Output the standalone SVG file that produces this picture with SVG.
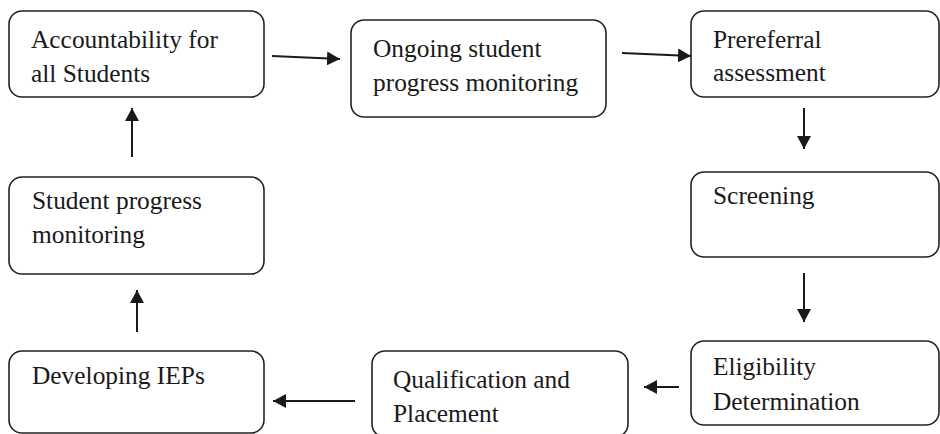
<svg xmlns="http://www.w3.org/2000/svg" width="940" height="434" viewBox="0 0 940 434">
<defs>
<marker id="ah" markerUnits="userSpaceOnUse" markerWidth="14" markerHeight="14" viewBox="0 0 14 14" refX="13" refY="7" orient="auto">
<path d="M0,0 L13,7 L0,14 Z" fill="#1a1a1a"/>
</marker>
</defs>
<style>
.box{fill:#fff;stroke:#222;stroke-width:1.6}
.t{font-size:25.4px;fill:#1a1a1a}
.c{stroke:#1a1a1a;stroke-width:2;fill:none;marker-end:url(#ah)}
</style>
<rect width="940" height="434" fill="#fff"/>
<g font-family="'Liberation Serif', 'Times New Roman', Times, serif">
<g id="n1"><rect class="box" x="9" y="11" width="255" height="86" rx="13"/><text class="t" x="31" y="48">Accountability for</text><text class="t" x="31" y="82">all Students</text></g>
<g id="n2"><rect class="box" x="351" y="20" width="255" height="97" rx="13"/><text class="t" x="373" y="57">Ongoing student</text><text class="t" x="373" y="91">progress monitoring</text></g>
<g id="n3"><rect class="box" x="691" y="11" width="248" height="86" rx="13"/><text class="t" x="713" y="48">Prereferral</text><text class="t" x="713" y="81">assessment</text></g>
<g id="n4"><rect class="box" x="691" y="172" width="248" height="85" rx="13"/><text class="t" x="713" y="204">Screening</text></g>
<g id="n5"><rect class="box" x="691" y="341" width="248" height="84" rx="13"/><text class="t" x="713" y="375">Eligibility</text><text class="t" x="713" y="410">Determination</text></g>
<g id="n6"><rect class="box" x="372" y="351" width="256" height="86" rx="13"/><text class="t" x="393" y="388">Qualification and</text><text class="t" x="393" y="422">Placement</text></g>
<g id="n7"><rect class="box" x="9" y="351" width="255" height="82" rx="13"/><text class="t" x="32" y="384">Developing IEPs</text></g>
<g id="n8"><rect class="box" x="9" y="177" width="255" height="97" rx="13"/><text class="t" x="32" y="209">Student progress</text><text class="t" x="32" y="243">monitoring</text></g>
</g>
<g id="connectors">
<line class="c" x1="272" y1="56" x2="340" y2="59"/>
<line class="c" x1="622" y1="53" x2="691" y2="56"/>
<line class="c" x1="804" y1="108" x2="804" y2="149"/>
<line class="c" x1="804" y1="273" x2="804" y2="322"/>
<line class="c" x1="679" y1="387" x2="644" y2="387"/>
<line class="c" x1="355" y1="401" x2="273" y2="401"/>
<line class="c" x1="137" y1="332" x2="137" y2="290"/>
<line class="c" x1="132" y1="157" x2="132" y2="108"/>
</g>
</svg>
